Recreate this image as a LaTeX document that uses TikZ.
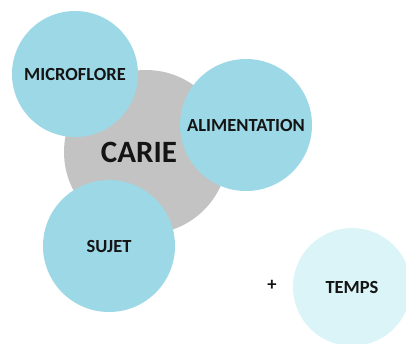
\documentclass[tikz,border=0pt]{standalone}
\usepackage{fontspec}
\setmainfont{Carlito}
\usepackage{tikz}

\definecolor{cariegray}{HTML}{C3C3C3}
\definecolor{factorblue}{HTML}{9DD8E6}
\definecolor{timeblue}{HTML}{DAF4F8}
\definecolor{labelink}{HTML}{141414}

\tikzset{
  hub/.style={circle, fill=cariegray, minimum size=164pt, inner sep=0pt,
    text=labelink, font=\fontsize{31}{31}\selectfont\bfseries},
  factor/.style={circle, fill=factorblue, inner sep=0pt,
    text=labelink, font=\fontsize{18.5}{18.5}\selectfont\bfseries},
  timefactor/.style={factor, fill=timeblue}
}

\begin{document}
\begin{tikzpicture}[x=1pt, y=-1pt]
    \useasboundingbox (0,0) rectangle (406,343);
    \begin{scope}
      \clip (0,0) rectangle (406,343);

      \node[hub] (carie) at (146,152) {CARIE\kern14pt};

      \node[factor, minimum size=126pt] (micro) at (75,74) {MICROFLORE};
      \node[factor, minimum size=132pt] (alim) at (246,125) {ALIMENTATION};
      \node[factor, minimum size=132pt] (sujet) at (109,246) {SUJET};

      \node[timefactor, minimum size=118pt] (temps) at (352,287) {TEMPS};
      \node[text=labelink, font=\fontsize{18.5}{18.5}\selectfont\bfseries] (plus) at (272,285) {+};
    \end{scope}
  \end{tikzpicture}
\end{document}
